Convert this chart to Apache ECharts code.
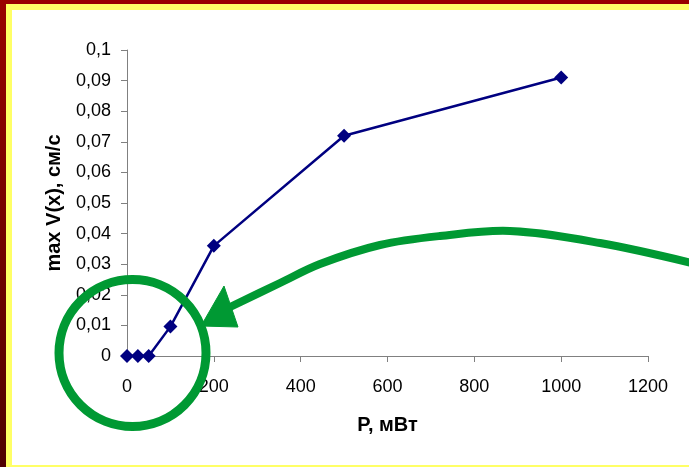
<!DOCTYPE html>
<html>
<head>
<meta charset="utf-8">
<script src="https://cdn.jsdelivr.net/npm/echarts@6/dist/echarts.min.js"></script>
<style>
html,body{margin:0;padding:0;width:689px;height:467px;overflow:hidden;background:#fff;}
#wrap{position:relative;width:689px;height:467px;background:#FFFF66;}
#inner{position:absolute;left:12px;top:10px;width:677px;height:455px;background:#fff;}
#topRed{position:absolute;left:0;top:0;width:689px;height:4px;background:#990000;}
#leftRed{position:absolute;left:0;top:0;width:6px;height:467px;background:linear-gradient(#990000,#4f0000);}
#chart{position:absolute;left:0;top:0;width:689px;height:467px;}
</style>
</head>
<body>
<div id="wrap">
  <div id="inner"></div>
  <div id="topRed"></div>
  <div id="leftRed"></div>
  <div id="chart"></div>
</div>
<script>
// Data
const powerMW = [0, 25, 50, 100, 200, 500, 1000];
const maxV = [0, 0, 0, 0.0096, 0.036, 0.072, 0.091];
const xAxisName = 'P, мВт';
const yAxisName = 'max V(x), см/с';

const chart = echarts.init(document.getElementById('chart'), null, {renderer: 'canvas'});
const green = '#009933';
chart.setOption({
  backgroundColor: 'transparent',
  animation: false,
  grid: {left: 127, right: 41, top: 50, bottom: 111, containLabel: false},
  xAxis: {
    type: 'value', min: 0, max: 1200, interval: 200,
    name: xAxisName, nameLocation: 'middle', nameGap: 59,
    nameTextStyle: {fontFamily: 'Liberation Sans', fontWeight: 'bold', fontSize: 20, color: '#000'},
    axisLine: {show: true, lineStyle: {color: '#808080', width: 1}},
    axisTick: {show: true, length: 6, lineStyle: {color: '#808080'}},
    axisLabel: {fontFamily: 'Liberation Sans', fontSize: 18, color: '#000', margin: 22,
      formatter: v => String(v)},
    splitLine: {show: false}
  },
  yAxis: {
    type: 'value', min: 0, max: 0.1, interval: 0.01,
    name: yAxisName, nameLocation: 'middle', nameGap: 63, nameRotate: 90,
    nameTextStyle: {fontFamily: 'Liberation Sans', fontWeight: 'bold', fontSize: 20, color: '#000'},
    axisLine: {show: true, lineStyle: {color: '#808080', width: 1}},
    axisTick: {show: true, length: 6, lineStyle: {color: '#808080'}},
    axisLabel: {
      fontFamily: 'Liberation Sans', fontSize: 18, color: '#000', margin: 16,
      formatter: v => v === 0 ? '0' : String(+v.toFixed(2)).replace('.', ',')
    },
    splitLine: {show: false}
  },
  series: [{
    type: 'line',
    data: powerMW.map((p, i) => [p, maxV[i]]),
    symbol: 'diamond', symbolSize: 14,
    lineStyle: {color: '#000080', width: 2.5},
    itemStyle: {color: '#000080'},
    z: 3
  }],
  graphic: [
    {type: 'circle', z: 100, shape: {cx: 132.5, cy: 353, r: 73.5},
     style: {fill: 'none', stroke: green, lineWidth: 9}},
    {type: 'polyline', z: 100,
     shape: {points: [[692, 263], [600, 243], [510, 231], [440, 236], [380, 245], [320, 264], [280, 283], [226, 309]], smooth: 0.35},
     style: {fill: 'none', stroke: green, lineWidth: 8, lineCap: 'butt'}},
    {type: 'polygon', z: 100,
     shape: {points: [[201, 326], [224, 286], [238, 327]]},
     style: {fill: green, stroke: green, lineWidth: 1}}
  ]
});
</script>
</body>
</html>
